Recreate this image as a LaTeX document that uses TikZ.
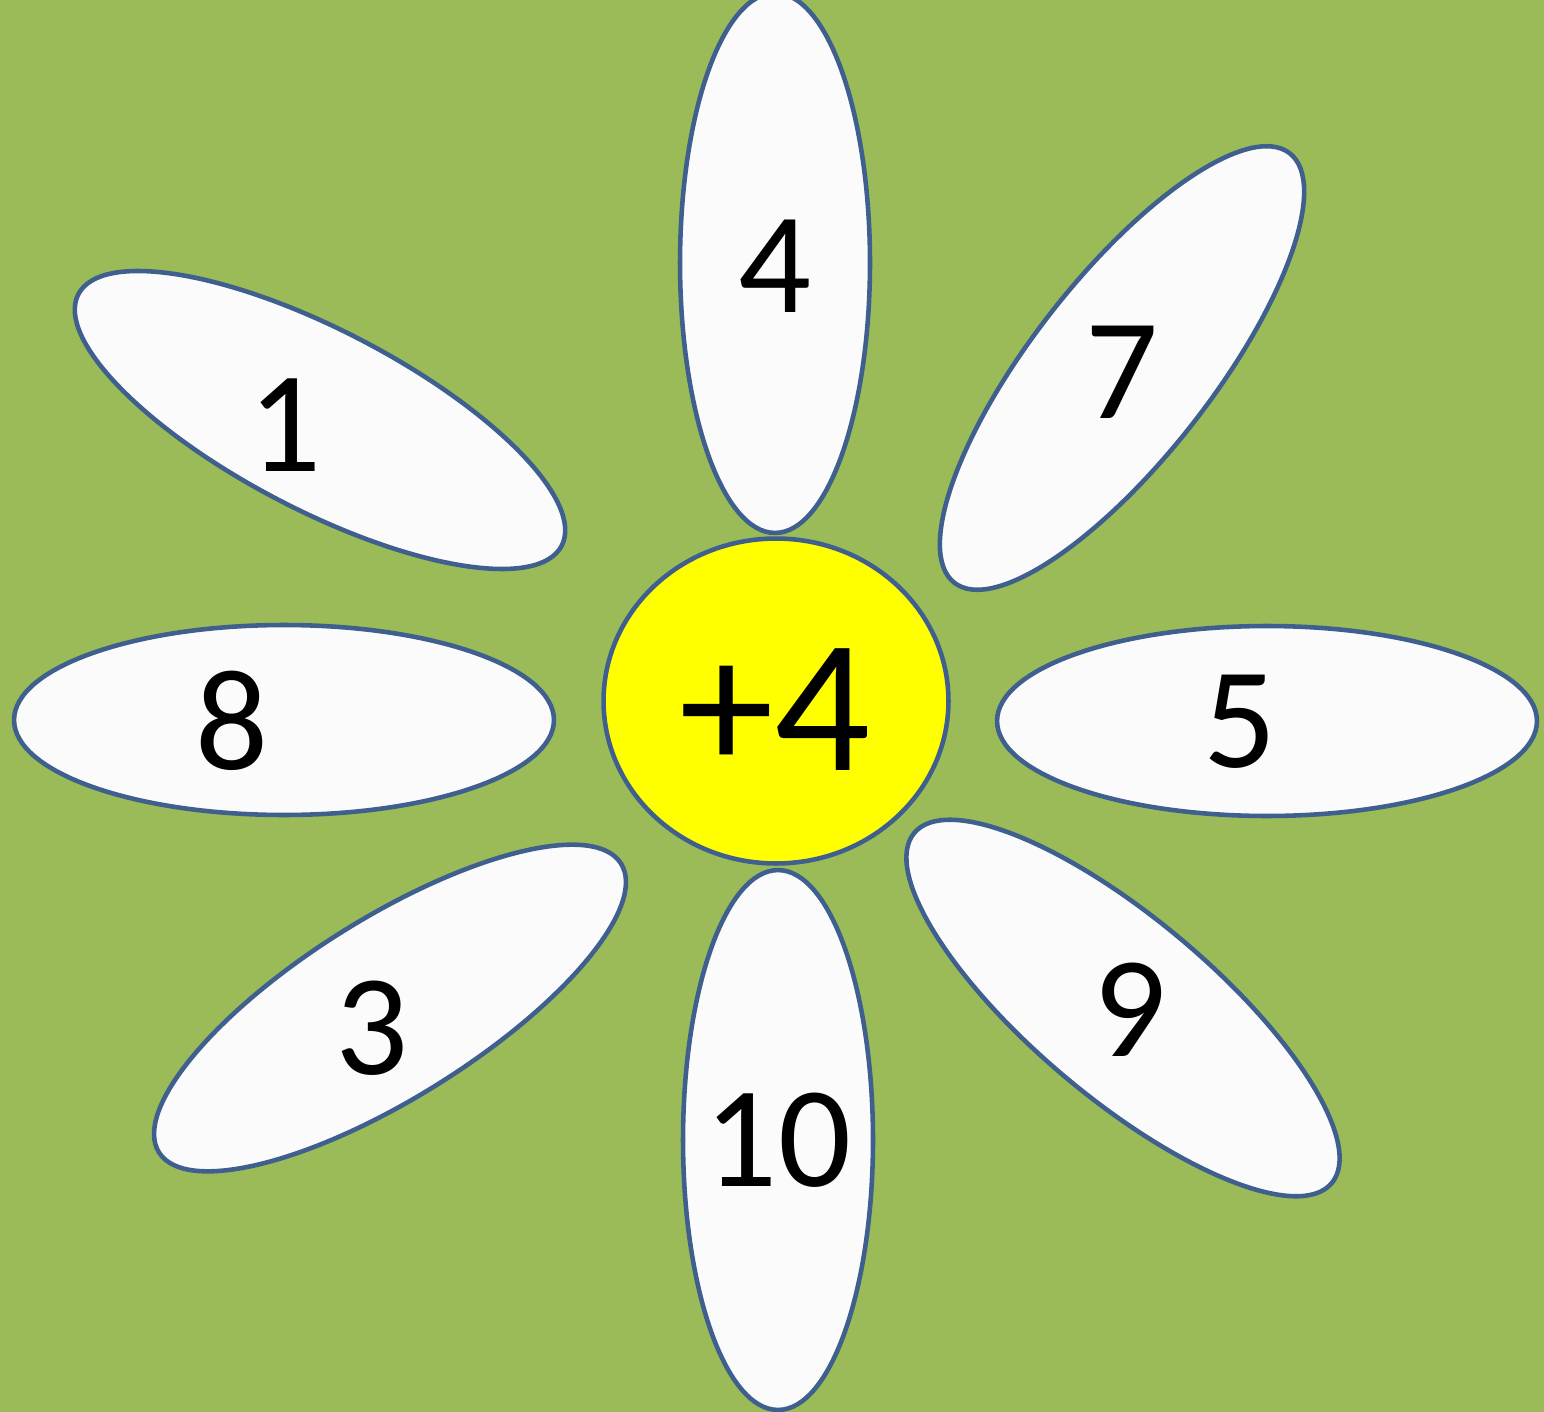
\documentclass[tikz,border=0pt]{standalone}
\usepackage{fontspec}
\setmainfont{Carlito}
\usetikzlibrary{shapes.geometric}
\definecolor{meadow}{HTML}{9BBB59}
\definecolor{petalline}{HTML}{3F5F8E}
\definecolor{petalfill}{HTML}{FBFBFB}
\definecolor{heartfill}{HTML}{FFFF00}

\begin{document}
\begin{tikzpicture}[
  x=0.02cm, y=-0.02cm,
  petal/.style={
    ellipse, draw=petalline, fill=petalfill,
    line width=2.6pt, inner sep=0pt,
    minimum width=10.8cm, minimum height=3.8cm
  },
  slant/.style={petal, minimum width=10.9cm, minimum height=3.6cm},
  heart/.style={
    ellipse, draw=petalline, fill=heartfill,
    line width=2.6pt, inner sep=0pt,
    minimum width=6.9cm, minimum height=6.5cm
  },
  num/.style={inner sep=0pt, font=\fontsize{82}{90}\selectfont},
  bignum/.style={inner sep=0pt, font=\fontsize{108}{120}\selectfont}
]

\fill[meadow] (0,0) rectangle (1544,1412);
\useasboundingbox (0,0) rectangle (1544,1412);

% petals
\node[petal, rotate=90] (ptop) at (775,263) {};
\node[petal, rotate=90] (pbot) at (778,1140) {};
\node[petal] (pleft) at (284,720) {};
\node[petal] (pright) at (1267,721) {};
\node[slant, rotate=-27.5] (pnw) at (320,420) {};
\node[slant, rotate=52] (pne) at (1122,368) {};
\node[slant, rotate=32] (psw) at (390,1008) {};
\node[slant, rotate=-40] (pse) at (1123,1008) {};

% centre
\node[heart] (mid) at (776,701) {};

% numbers
\node[num] (n4) at (775,266) {4};
\node[num] (n10) at (778,1140) {10};
\node[num] (n8) at (232,721) {8};
\node[num] (n5) at (1240,722) {5};
\node[num] (n1) at (285,425) {1};
\node[num] (n7) at (1122,372) {7};
\node[num] (n3) at (372,1028) {3};
\node[num] (n9) at (1130,1010) {9};
\node[bignum] (add) at (775,710) {+4};

\end{tikzpicture}
\end{document}
